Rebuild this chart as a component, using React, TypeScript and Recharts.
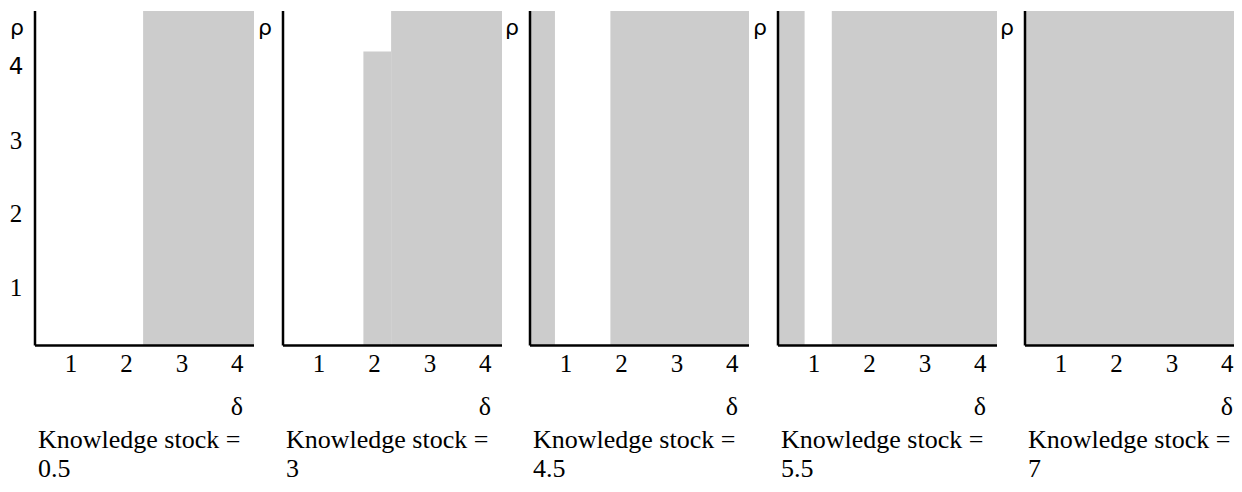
import { ComposedChart, XAxis, YAxis, ReferenceArea } from "recharts"

const deltaTicks = [1, 2, 3, 4]
const rhoTicks = [1, 2, 3, 4]
const deltaDomain = [0.35, 4.3]
const rhoDomain = [0.2, 4.75]

const stockLabels = ["0.5", "3", "4.5", "5.5", "7"]

// shaded (delta, rho) regions for each knowledge stock
const regionsK05 = [{ d1: 2.3, d2: 4.3, r1: 0.2, r2: 4.75 }]
const regionsK3 = [
  { d1: 1.8, d2: 2.3, r1: 0.2, r2: 4.2 },
  { d1: 2.3, d2: 4.3, r1: 0.2, r2: 4.75 },
]
const regionsK45 = [
  { d1: 0.35, d2: 0.8, r1: 0.2, r2: 4.75 },
  { d1: 1.8, d2: 4.3, r1: 0.2, r2: 4.75 },
]
const regionsK55 = [
  { d1: 0.35, d2: 0.83, r1: 0.2, r2: 4.75 },
  { d1: 1.32, d2: 4.3, r1: 0.2, r2: 4.75 },
]
const regionsK7 = [{ d1: 0.35, d2: 4.3, r1: 0.2, r2: 4.75 }]

const panelRegions = [regionsK05, regionsK3, regionsK45, regionsK55, regionsK7]

const SERIF = "Liberation Serif"
const SANS = "DejaVu Sans"

const PANEL_STEP = 247.5
const AXIS_X = 35

function XTick(props: any) {
  const { x, y, payload } = props
  return (
    <text x={x} y={y + 18.5} textAnchor="middle" fontFamily={SERIF} fontSize={25} fill="#000">
      {payload.value}
    </text>
  )
}

function YTick(props: any) {
  const { y, payload } = props
  const isSans = payload.value === 4
  return (
    <text
      x={16}
      y={y + (isSans ? 8 : 9)}
      textAnchor="middle"
      fontFamily={isSans ? SANS : SERIF}
      fontSize={isSans ? 23 : 25}
      fill="#000"
    >
      {payload.value}
    </text>
  )
}

function Panel({ index }: { index: number }) {
  const regions = panelRegions[index]
  const showRho = index === 0
  return (
    <div style={{ position: "absolute", left: index * PANEL_STEP, top: 0, width: 260, height: 492 }}>
      <ComposedChart width={260} height={380} data={[]} margin={{ top: 11, right: 6, bottom: 0, left: 15 }}>
        <XAxis
          type="number"
          dataKey="x"
          domain={deltaDomain}
          ticks={deltaTicks}
          allowDataOverflow
          height={34.5}
          tickLine={false}
          axisLine={{ stroke: "#000", strokeWidth: 2.5 }}
          tick={<XTick />}
        />
        <YAxis
          type="number"
          domain={rhoDomain}
          ticks={rhoTicks}
          allowDataOverflow
          width={20}
          tickLine={false}
          axisLine={{ stroke: "#000", strokeWidth: 2.5 }}
          tick={showRho ? <YTick /> : false}
        />
        {regions.map((r, i) => (
          <ReferenceArea
            key={i}
            x1={r.d1}
            x2={r.d2}
            y1={r.r1}
            y2={r.r2}
            fill="#cccccc"
            fillOpacity={1}
            stroke="none"
            ifOverflow="visible"
          />
        ))}
      </ComposedChart>
      <svg width={260} height={492} style={{ position: "absolute", left: 0, top: 0, pointerEvents: "none" }}>
        <text x={17} y={35} textAnchor="middle" fontFamily={SANS} fontSize={22} fill="#000">
          ρ
        </text>
        <text x={237} y={415} textAnchor="middle" fontFamily={SERIF} fontSize={26} fill="#000">
          δ
        </text>
        <text x={AXIS_X + 3} y={448} fontFamily={SERIF} fontSize={26} fill="#000">
          Knowledge stock =
        </text>
        <text x={AXIS_X + 3} y={477} fontFamily={SERIF} fontSize={26} fill="#000">
          {stockLabels[index]}
        </text>
      </svg>
    </div>
  )
}

export default function App() {
  return (
    <div
      style={{
        position: "relative",
        width: 1242,
        height: 492,
        marginLeft: -8,
        marginTop: -8,
        overflow: "hidden",
        background: "#fff",
      }}
    >
      {stockLabels.map((_, i) => (
        <Panel key={i} index={i} />
      ))}
    </div>
  )
}
